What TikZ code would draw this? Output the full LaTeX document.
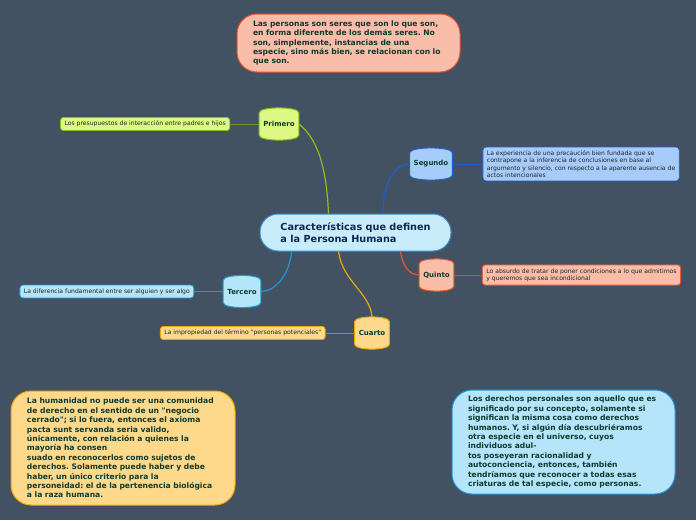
\documentclass[tikz,border=0pt]{standalone}
\usepackage{fontspec}
\setmainfont{DejaVu Sans}
\usepackage{tikz}
\usetikzlibrary{positioning,calc}
\definecolor{bgSlate}{RGB}{67, 82, 99}
\definecolor{textGreen}{RGB}{14, 58, 44}
\definecolor{textNavy}{RGB}{13, 40, 80}
\definecolor{leafText}{RGB}{30, 36, 40}
\definecolor{limeFill}{RGB}{221, 249, 131}
\definecolor{limeLine}{RGB}{141, 190, 26}
\definecolor{limeDark}{RGB}{118, 150, 30}
\definecolor{blueFill}{RGB}{167, 204, 249}
\definecolor{blueLine}{RGB}{30, 96, 196}
\definecolor{skyFill}{RGB}{180, 229, 251}
\definecolor{skyLine}{RGB}{33, 150, 211}
\definecolor{amberFill}{RGB}{255, 217, 139}
\definecolor{amberLine}{RGB}{236, 170, 0}
\definecolor{amberDark}{RGB}{170, 135, 50}
\definecolor{salmonFill}{RGB}{249, 189, 170}
\definecolor{salmonLine}{RGB}{232, 85, 42}
\definecolor{salmonDark}{RGB}{170, 95, 85}
\definecolor{coreFill}{RGB}{201, 236, 251}
\definecolor{coreLine}{RGB}{60, 141, 200}
\pgfdeclarelayer{backdrop}
\pgfdeclarelayer{shapes}
\pgfsetlayers{backdrop,shapes,main}
\frenchspacing

% barrel outline behind a topic node
\newcommand\barrel[3]{%
  \begin{pgfonlayer}{shapes}
  \draw[fill=#2, draw=#3, line width=1pt]
    (#1.north west) .. controls +(0,-6.5) and +(0,-6.5) .. (#1.north east)
    -- (#1.south east) .. controls +(0,6.5) and +(0,6.5) .. (#1.south west) -- cycle;
  \end{pgfonlayer}}

\begin{document}
\begin{tikzpicture}[x=1pt, y=-1pt,
  topic/.style={minimum height=22pt, inner xsep=4pt, inner ysep=0pt,
    font=\fontsize{7}{8}\selectfont\bfseries, text=textGreen},
  leaf/.style={rounded corners=3pt, line width=0.8pt, align=left,
    inner xsep=4pt, inner ysep=3.5pt, font=\fontsize{6.1}{7.3}\selectfont, text=leafText},
  note/.style={rounded corners=20pt, line width=1pt, align=left, inner xsep=16pt,
    font=\fontsize{7.6}{9.4}\selectfont\bfseries, text=textGreen},
  branch/.style={line width=1.2pt},
  twig/.style={line width=0.8pt},
  node distance=29pt]
  \begin{pgfonlayer}{backdrop}
  \fill[bgSlate] (0,0) rectangle (696,520);
  \end{pgfonlayer}
  \useasboundingbox (0,0) rectangle (696,520);

  % central topic
  \node[draw=coreLine, fill=coreFill, line width=1pt, rounded corners=18pt,
    minimum width=191pt, minimum height=37pt, align=left, text=textNavy,
    font=\fontsize{9.7}{12}\selectfont\bfseries] (core) at (355.5,232.5)
    {Características que definen\\a la Persona Humana};

  % top note
  \node[note, draw=salmonLine, fill=salmonFill, text width=191pt,
    minimum height=58pt] (topNote) at (348.5,43)
    {Las personas son seres que son lo que son,\\en forma diferente de los demás seres. No\\son, simplemente, instancias de una\\especie, sino más bien, se relacionan con lo\\que son.};

  % 1. Primero
  \node[topic] (primero) at (279,124) {Primero};
  \barrel{primero}{limeFill}{limeLine}
  \node[leaf, draw=limeLine, fill=limeFill, left=of primero] (primeroLeaf)
    {Los presupuestos de interacción entre padres e hijos};
  \draw[branch, limeLine] ([xshift=-27pt]core.north) .. controls +(-2,-48) and +(18,14) .. (primero.east);
  \draw[twig, limeDark] (primeroLeaf) -- (primero);

  % 2. Segundo
  \node[topic] (segundo) at (431,164) {Segundo};
  \barrel{segundo}{blueFill}{blueLine}
  \node[leaf, draw=blueLine, fill=blueFill, right=30pt of segundo] (segundoLeaf)
    {La experiencia de una precaución bien fundada que se\\contrapone a la inferencia de conclusiones en base al\\argumento y silencio, con respecto a la aparente ausencia de\\actos intencionales};
  \draw[branch, blueLine] ([xshift=27.5pt]core.north) .. controls +(0,-32) and +(-14,0) .. (segundo.west);
  \draw[twig, blueLine] (segundo) -- (segundoLeaf);

  % 3. Tercero
  \node[topic] (tercero) at (242,291.5) {Tercero};
  \barrel{tercero}{skyFill}{skyLine}
  \node[leaf, draw=skyLine, fill=skyFill, left=of tercero] (terceroLeaf)
    {La diferencia fundamental entre ser alguien y ser algo};
  \draw[branch, skyLine] ([xshift=-64pt]core.south) .. controls +(-2,24) and +(14,0) .. (tercero.east);
  \draw[twig, skyLine] (terceroLeaf) -- (tercero);

  % 4. Cuarto
  \node[topic] (cuarto) at (372,333) {Cuarto};
  \barrel{cuarto}{amberFill}{amberLine}
  \node[leaf, draw=amberLine, fill=amberFill, left=of cuarto] (cuartoLeaf)
    {La impropiedad del término \textquotedbl personas potenciales\textquotedbl};
  \draw[branch, amberLine] ([xshift=-17pt]core.south) .. controls +(4,30) and +(-2,-24) .. ([yshift=5pt]cuarto.north);
  \draw[twig, amberDark] (cuartoLeaf) -- (cuarto);

  % 5. Quinto
  \node[topic] (quinto) at (436.5,275) {Quinto};
  \barrel{quinto}{salmonFill}{salmonLine}
  \node[leaf, draw=salmonLine, fill=salmonFill, right=28pt of quinto] (quintoLeaf)
    {Lo absurdo de tratar de poner condiciones a lo que admitimos\\y queremos que sea incondicional};
  \draw[branch, salmonLine] ([xshift=45pt]core.south) .. controls +(2,14) and +(-10,0) .. (quinto.west);
  \draw[twig, salmonDark] (quinto) -- (quintoLeaf);

  % bottom notes
  \node[note, draw=amberLine, fill=amberFill, text width=192pt,
    minimum height=114pt] (leftNote) at (123,448)
    {La humanidad no puede ser una comunidad\\de derecho en el sentido de un \textquotedbl negocio\\cerrado\textquotedbl; si lo fuera, entonces el axioma\\pacta sunt servanda seria valido,\\únicamente, con relación a quienes la\\mayoría ha consen\\suado en reconocerlos como sujetos de\\derechos. Solamente puede haber y debe\\haber, un único criterio para la\\personeidad: el de la pertenencia biológica\\a la raza humana.};
  \node[note, draw=skyLine, fill=skyFill, text width=191pt,
    minimum height=104pt] (rightNote) at (563.5,442)
    {Los derechos personales son aquello que es\\significado por su concepto, solamente si\\significan la misma cosa como derechos\\humanos. Y, si algún día descubriéramos\\otra especie en el universo, cuyos\\individuos adul-\\tos poseyeran racionalidad y\\autoconciencia, entonces, también\\tendríamos que reconocer a todas esas\\criaturas de tal especie, como personas.};
\end{tikzpicture}
\end{document}
